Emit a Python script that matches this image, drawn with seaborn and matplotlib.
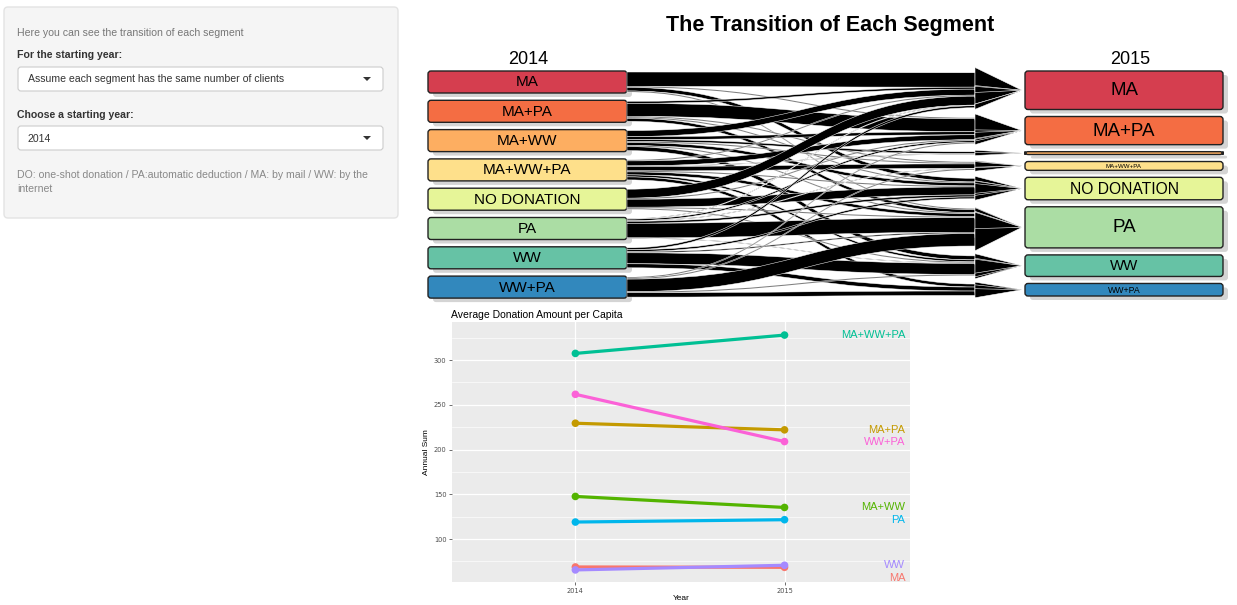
import numpy as np
import pandas as pd
import matplotlib
matplotlib.use("Agg")
import matplotlib.pyplot as plt
import seaborn as sns
from matplotlib.patches import FancyBboxPatch, PathPatch, Polygon
from matplotlib.path import Path
import matplotlib.transforms as mtransforms

# ---------------- data ----------------
segments = ["MA", "MA+PA", "MA+WW", "MA+WW+PA", "NO DONATION", "PA", "WW", "WW+PA"]
node_colors = ["#D53E4F", "#F46D43", "#FDAE61", "#FEE08B", "#E6F598", "#ABDDA4", "#66C2A5", "#3288BD"]

# share of each 2014 segment moving to each 2015 segment (same order as segments)
flow_from_MA        = [0.72, 0.05, 0.00, 0.00, 0.18, 0.05, 0.00, 0.00]
flow_from_MA_PA     = [0.10, 0.65, 0.00, 0.05, 0.05, 0.15, 0.00, 0.00]
flow_from_MA_WW     = [0.30, 0.15, 0.10, 0.05, 0.15, 0.05, 0.20, 0.00]
flow_from_MA_WW_PA  = [0.05, 0.25, 0.03, 0.22, 0.05, 0.15, 0.10, 0.15]
flow_from_NO_DON    = [0.45, 0.05, 0.00, 0.00, 0.40, 0.05, 0.05, 0.00]
flow_from_PA        = [0.03, 0.08, 0.00, 0.03, 0.10, 0.73, 0.03, 0.00]
flow_from_WW        = [0.10, 0.00, 0.00, 0.00, 0.09, 0.06, 0.55, 0.20]
flow_from_WW_PA     = [0.00, 0.05, 0.00, 0.05, 0.00, 0.63, 0.05, 0.22]

years = [2014, 2015]
line_segments = ["MA", "MA+PA", "MA+WW", "MA+WW+PA", "PA", "WW", "WW+PA"]
avg_2014 = [68.8, 229.4, 147.6, 307.4, 119.0, 65.5, 261.7]
avg_2015 = [68.4, 222.0, 135.3, 327.9, 121.6, 70.7, 208.9]
line_colors = ["#F8766D", "#C49A00", "#53B400", "#00C094", "#00B6EB", "#A58AFF", "#FB61D7"]

flows = np.array([flow_from_MA, flow_from_MA_PA, flow_from_MA_WW, flow_from_MA_WW_PA,
                  flow_from_NO_DON, flow_from_PA, flow_from_WW, flow_from_WW_PA])

FONT = "Liberation Sans"
W, H = 1237, 605
fig = plt.figure(figsize=(W / 100, H / 100), dpi=100)
ax0 = fig.add_axes([0, 0, 1, 1])
ax0.set_xlim(0, W)
ax0.set_ylim(H, 0)
ax0.axis("off")

# ---------------- sidebar ----------------
SB = 7.6
ax0.add_patch(FancyBboxPatch((4, 7), 394, 211, boxstyle="round,pad=0,rounding_size=4",
                             fc="#f5f5f5", ec="#e3e3e3", lw=1))
ax0.text(17, 32.5, "Here you can see the transition of each segment", fontsize=SB,
         color="#777777", family=FONT, va="center")
ax0.text(17, 55.5, "For the starting year:", fontsize=SB, color="#333333",
         family=FONT, weight="bold", va="center")
for (y0, txt) in [(67, "Assume each segment has the same number of clients"), (126, "2014")]:
    ax0.add_patch(FancyBboxPatch((18, y0), 365, 24, boxstyle="round,pad=0,rounding_size=3",
                                 fc="white", ec="#cccccc", lw=0.8))
    ax0.text(28, y0 + 12.5, txt, fontsize=SB, color="#333333", family=FONT, va="center")
    ax0.add_patch(Polygon([(363, y0 + 10), (371, y0 + 10), (367, y0 + 14)], closed=True,
                          fc="#333333", ec="none"))
ax0.text(17, 114.5, "Choose a starting year:", fontsize=SB, color="#333333",
         family=FONT, weight="bold", va="center")
ax0.text(17, 174.5, "DO: one-shot donation / PA:automatic deduction / MA: by mail / WW: by the",
         fontsize=SB, color="#888888", family=FONT, va="center")
ax0.text(17, 189.5, "internet", fontsize=SB, color="#888888", family=FONT, va="center")

# ---------------- sankey ----------------
ax0.text(830, 26, "The Transition of Each Segment", fontsize=15.5, weight="bold",
         family=FONT, ha="center", va="center")
ax0.text(528, 59, "2014", fontsize=13, family=FONT, ha="center", va="center")
ax0.text(1130, 59, "2015", fontsize=13, family=FONT, ha="center", va="center")

unit = 22.0
flow_unit = 20.0
top = 71.0
lx0, lx1 = 428, 627
rx0, rx1 = 1025, 1223
x_arrow = 975
left_h = flows.sum(axis=1) * unit
right_h = flows.sum(axis=0) * unit

left_top = []
y = top
for h in left_h:
    left_top.append(y)
    y += h + 7.3
right_top = []
y = top
for h in right_h:
    right_top.append(y)
    y += h + 7.0


def draw_box(x0, y0, w, h, color, label):
    ax0.add_patch(FancyBboxPatch((x0 + 5, y0 + 4), w, h, boxstyle="round,pad=0,rounding_size=3",
                                 fc="#d4d4d4", ec="none", zorder=1))
    ax0.add_patch(FancyBboxPatch((x0, y0), w, h, boxstyle="round,pad=0,rounding_size=3",
                                 fc=color, ec="#222222", lw=1.0, zorder=2))
    fs = min(13.5, 0.5 * h)
    if fs >= 2.5:
        ax0.text(x0 + w / 2, y0 + h / 2 + 0.5, label, fontsize=fs, family=FONT,
                 ha="center", va="center", zorder=3)


src_cursor = [left_top[i] + (left_h[i] - flows[i].sum() * flow_unit) / 2 for i in range(8)]
tgt_cursor = [right_top[j] + (right_h[j] - flows[:, j].sum() * flow_unit) / 2 for j in range(8)]
tgt_pos = {}
for j in range(8):
    c = tgt_cursor[j]
    for i in range(8):
        w = flows[i, j] * flow_unit
        if w > 0:
            tgt_pos[(i, j)] = (c, c + w)
            c += w
ribbons = []
for i in range(8):
    c = src_cursor[i]
    for j in range(8):
        w = flows[i, j] * flow_unit
        if w > 0:
            ribbons.append((i, j, c, c + w))
            c += w

for (i, j, ya0, ya1) in ribbons:
    yb0, yb1 = tgt_pos[(i, j)]
    xm = (lx1 + x_arrow) / 2
    verts = [(lx1, ya0), (xm, ya0), (xm, yb0), (x_arrow, yb0),
             (x_arrow, yb1), (xm, yb1), (xm, ya1), (lx1, ya1), (lx1, ya0)]
    codes = [Path.MOVETO, Path.CURVE4, Path.CURVE4, Path.CURVE4,
             Path.LINETO, Path.CURVE4, Path.CURVE4, Path.CURVE4, Path.CLOSEPOLY]
    ax0.add_patch(PathPatch(Path(verts, codes), fc="black", ec="white", lw=0.35, zorder=4))

for (i, j), (yb0, yb1) in tgt_pos.items():
    yc = right_top[j] + right_h[j] / 2
    a = 0.3 * (yb1 - yb0) + 1.0
    ax0.add_patch(Polygon([(x_arrow, yb0 - a), (x_arrow, yb1 + a), (rx0 - 3, yc)], closed=True,
                          fc="black", ec="white", lw=0.4, zorder=5))

for k in range(8):
    draw_box(lx0, left_top[k], lx1 - lx0, left_h[k], node_colors[k], segments[k])
    draw_box(rx0, right_top[k], rx1 - rx0, right_h[k], node_colors[k], segments[k])

# ---------------- line chart ----------------
df = pd.DataFrame({
    "Year": [years[0]] * len(line_segments) + [years[1]] * len(line_segments),
    "Annual Sum": avg_2014 + avg_2015,
    "Segment": line_segments * 2,
})
pal = dict(zip(line_segments, line_colors))

ax2 = fig.add_axes([452 / W, 1 - 582 / H, 458 / W, 260 / H])
ax2.set_facecolor("#EBEBEB")
sns.lineplot(data=df, x="Year", y="Annual Sum", hue="Segment", palette=pal,
             linewidth=2.3, legend=False, ax=ax2, zorder=3)
sns.scatterplot(data=df, x="Year", y="Annual Sum", hue="Segment", palette=pal,
                s=30, edgecolor="none", legend=False, ax=ax2, zorder=4)
ax2.set_xlim(2013.41, 2015.60)
ax2.set_ylim(52, 342.5)
ax2.set_xticks(years)
ax2.set_xticklabels([str(y) for y in years])
ax2.set_yticks([100, 150, 200, 250, 300])
ax2.set_yticks([75, 125, 175, 225, 275, 325], minor=True)
ax2.grid(which="major", color="white", lw=0.9)
ax2.grid(which="minor", axis="y", color="white", lw=0.45)
ax2.set_axisbelow(True)
for s in ax2.spines.values():
    s.set_visible(False)
ax2.tick_params(which="major", length=2, width=0.5, color="#333333", labelsize=4.8,
                labelcolor="#4d4d4d", pad=2)
ax2.tick_params(which="minor", length=0)
ax2.set_xlabel("Year", fontsize=6.0, family=FONT, labelpad=1)
ax2.set_ylabel("Annual Sum", fontsize=6.0, family=FONT, labelpad=3)
ax2.set_title("Average Donation Amount per Capita", loc="left", fontsize=7.5,
              family=FONT, pad=3, x=-0.002)

order = np.argsort(avg_2015)[::-1]
prev = None
label_y = {}
for idx in order:
    yv = avg_2015[idx]
    if prev is not None:
        yv = min(yv, prev - 14.0)
    label_y[idx] = yv
    prev = yv
trans = mtransforms.blended_transform_factory(ax2.transAxes, ax2.transData)
for idx, yv in label_y.items():
    ax2.text(0.99, yv, line_segments[idx], transform=trans, ha="right", va="center",
             fontsize=8.0, family=FONT, color=line_colors[idx])

fig.savefig("out.png", dpi=100)
